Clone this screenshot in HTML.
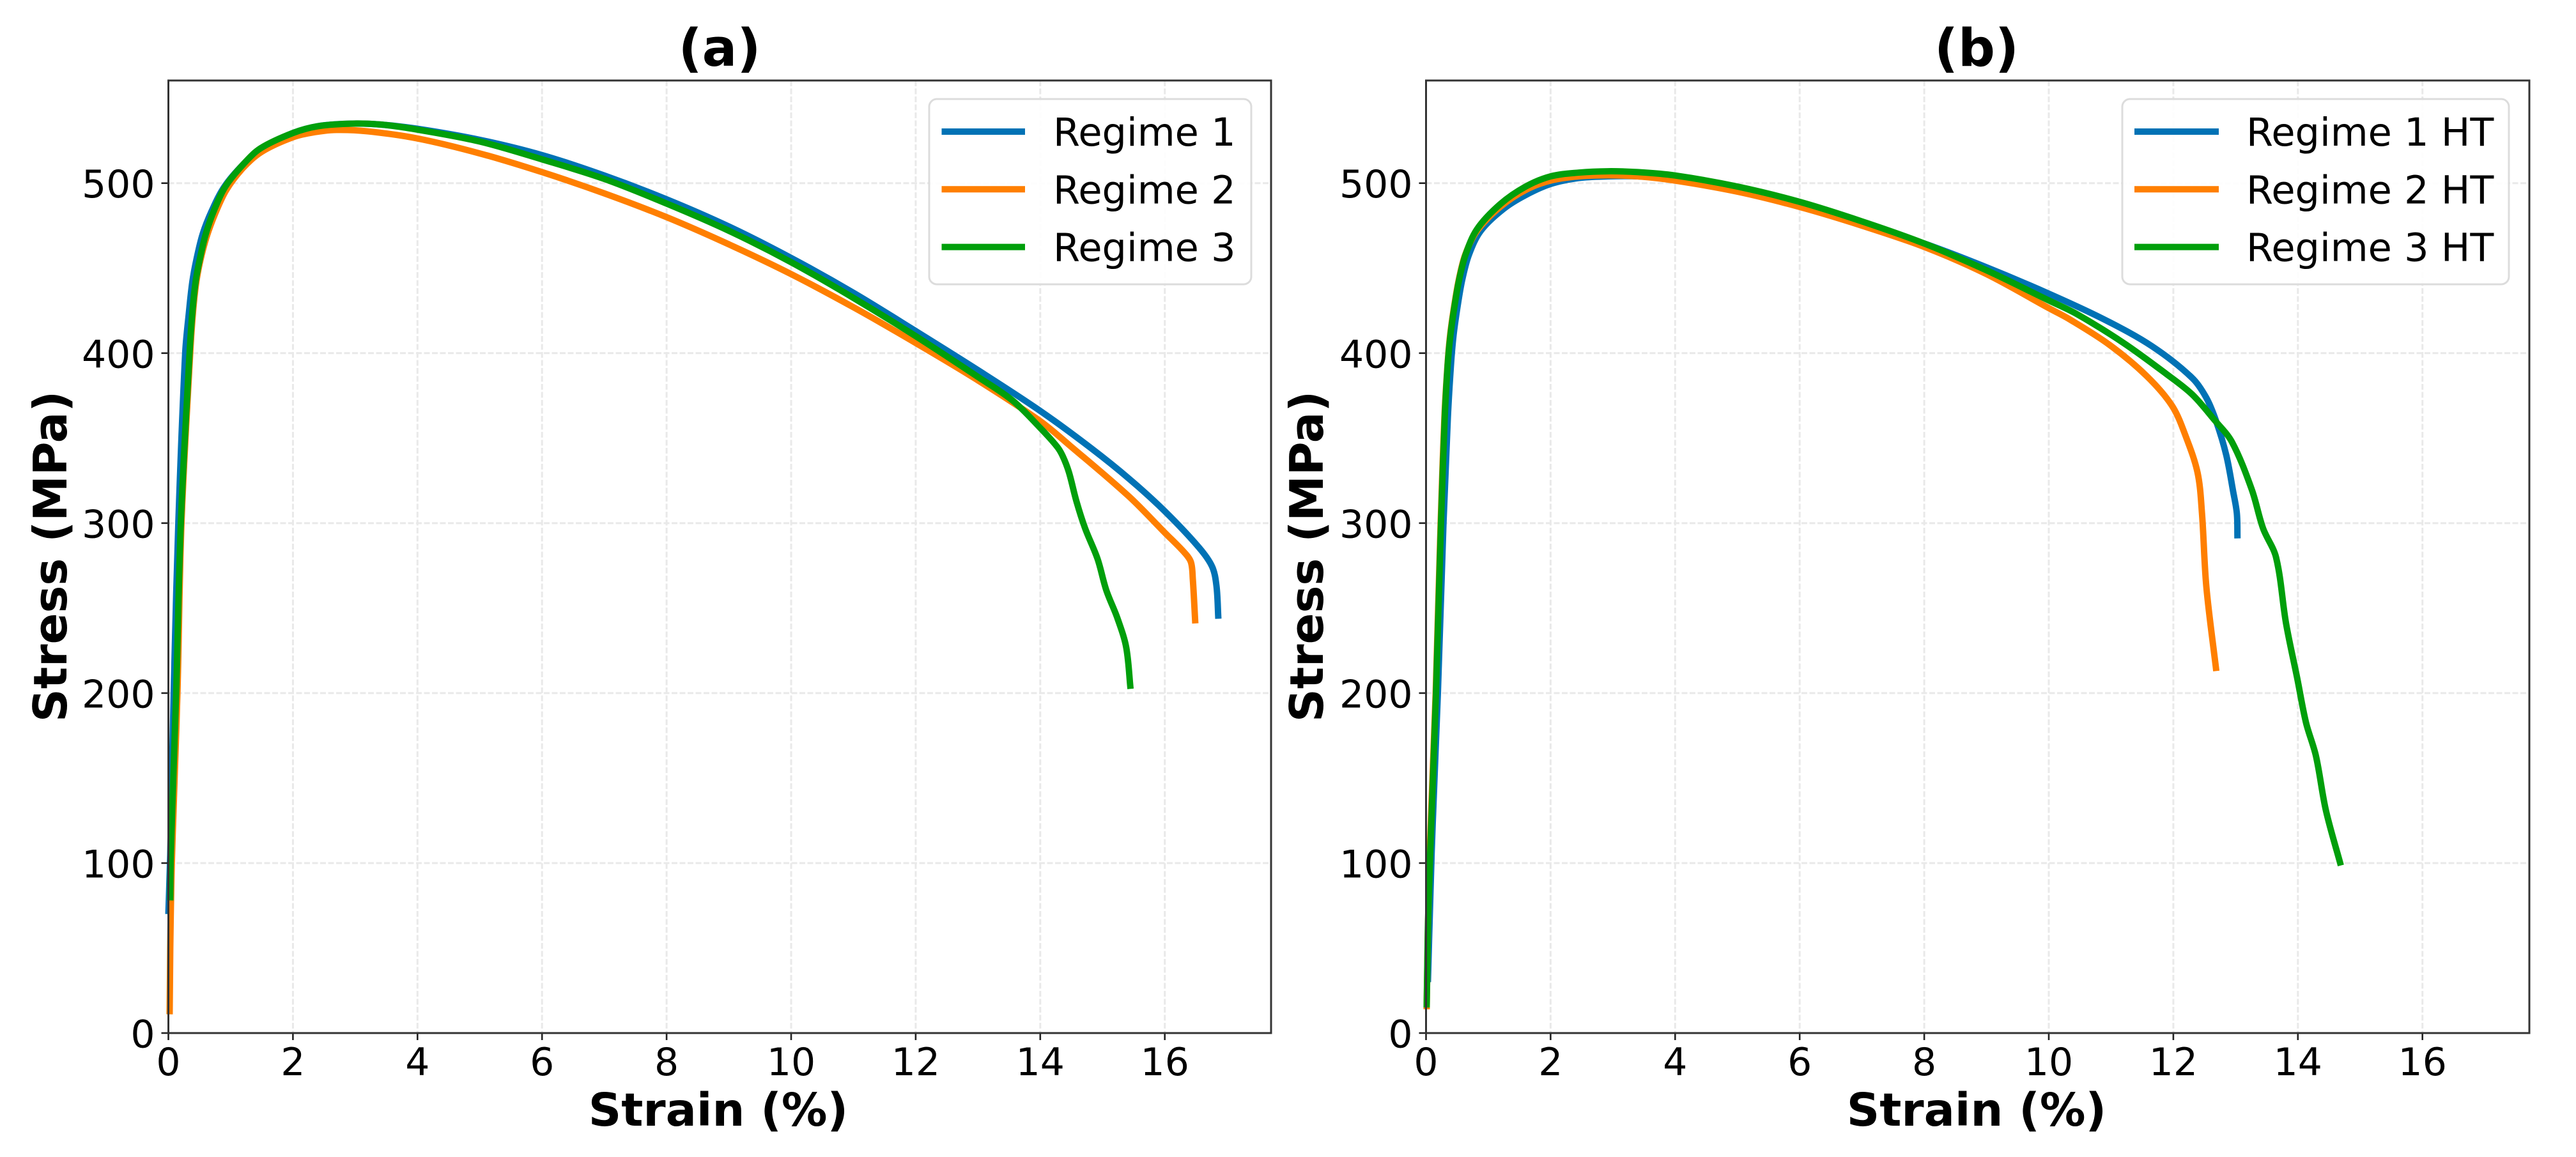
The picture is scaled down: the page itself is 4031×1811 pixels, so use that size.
<!DOCTYPE html>
<html lang="en">
<head>
<meta charset="utf-8">
<title>Stress-strain curves</title>
<style>
html,body{margin:0;padding:0;background:#fff;}
svg{display:block;}
text{font-family:"DejaVu Sans","Liberation Sans",sans-serif;fill:#000;}
.bold{font-weight:bold;}
</style>
</head>
<body>
<svg id="figure" xmlns="http://www.w3.org/2000/svg" width="4031" height="1811" viewBox="0 0 4031 1811">
  <rect x="0" y="0" width="4031" height="1811" fill="#fff"/>
  <g id="panel-a">
    <text class="bold" x="1126" y="103" font-size="81" text-anchor="middle">(a)</text>
    <text class="bold" x="1124" y="1762" font-size="71.5" text-anchor="middle">Strain (%)</text>
    <text class="bold" x="0" y="0" font-size="72" text-anchor="middle" transform="translate(104 871) rotate(-90)">Stress (MPa)</text>
  </g>
  <g id="panel-b">
    <text class="bold" x="3093" y="103" font-size="81" text-anchor="middle">(b)</text>
    <text class="bold" x="3093" y="1762" font-size="71.5" text-anchor="middle">Strain (%)</text>
    <text class="bold" x="0" y="0" font-size="72" text-anchor="middle" transform="translate(2070 871) rotate(-90)">Stress (MPa)</text>
  </g>
</svg>
<script>
// ---- tick labels ----
const xTicks = [0, 2, 4, 6, 8, 10, 12, 14, 16];
const yTicks = [0, 100, 200, 300, 400, 500];

// ---- panel (a) series ----
const strainA1 = [0, 0.03, 0.085, 0.16, 0.27, 0.33, 0.385, 0.45, 0.55, 0.7, 0.9, 1.2, 1.5, 2, 2.4, 2.9, 3.4, 4, 5, 6, 7, 8, 9, 10, 11, 12, 13, 14, 14.82, 15.43, 16, 16.55, 16.76, 16.83, 16.86];
const stressA1 = [70, 105, 200, 300, 400, 424, 442, 455, 470, 484, 498, 511, 520.5, 529.5, 533.5, 535, 534.5, 532, 525.5, 516.5, 504.5, 490.5, 474.5, 456, 435.5, 413, 390, 366, 344, 326, 307, 285.6, 274.4, 263, 243.75];
const strainA2 = [0.02, 0.03, 0.055, 0.145, 0.21, 0.35, 0.395, 0.445, 0.51, 0.61, 0.75, 0.93, 1.2, 1.5, 2, 2.35, 2.7, 3.2, 4, 5, 6, 7, 8, 9, 10, 11, 12, 13, 14, 14.48, 15.43, 16, 16.32, 16.42, 16.45, 16.49];
const stressA2 = [11, 50, 100, 200, 300, 400, 424, 441, 454, 468, 482, 496, 509, 518.5, 527, 530, 531.3, 530.5, 526.3, 517.5, 506.5, 494, 480, 464, 446.5, 427, 406, 384, 360, 345.5, 315.5, 294.4, 282.5, 277, 267, 241];
const strainA3 = [0.03, 0.04, 0.125, 0.2, 0.34, 0.385, 0.437, 0.503, 0.6, 0.733, 0.915, 1.2, 1.48, 2, 2.4, 2.92, 3.4, 4, 5, 6, 7, 8, 9, 10, 11, 12, 13, 13.56, 14, 14.27, 14.36, 14.46, 14.58, 14.72, 14.92, 15.06, 15.24, 15.38, 15.45];
const stressA3 = [78, 106, 200, 300, 400, 424, 442, 455, 470, 484, 498, 511, 520.5, 529.5, 533.5, 535, 534.5, 531.5, 524.5, 514, 502.5, 488, 472, 453.5, 432.5, 410, 386, 372, 356, 345, 339.5, 330, 313, 297, 279, 260.6, 244, 227, 202.5];

// ---- panel (b) series ----
const strainB1 = [0.03, 0.09, 0.19, 0.28, 0.35, 0.4, 0.44, 0.5, 0.58, 0.69, 0.88, 1.25, 1.6, 2, 2.45, 2.92, 3.4, 4, 5, 6, 7, 8, 9, 10, 10.88, 11.66, 12.3, 12.53, 12.69, 12.85, 12.96, 13.02, 13.03];
const stressB1 = [30, 106, 200, 300, 362, 393, 410, 426, 443, 458, 472, 485, 493, 499.5, 503, 504, 504, 502, 496, 487, 476, 464.5, 450.5, 435, 420, 404, 385.5, 373.7, 359.7, 340, 318.7, 305.7, 291];
const strainB2 = [0.01, 0.03, 0.06, 0.155, 0.235, 0.295, 0.345, 0.385, 0.445, 0.525, 0.63, 0.82, 1.19, 1.6, 2, 2.45, 2.92, 3.4, 4, 5, 6, 7, 8, 9, 10, 10.33, 10.97, 11.57, 11.98, 12.2, 12.39, 12.46, 12.53, 12.69];
const stressB2 = [14, 60, 106, 200, 300, 362, 393, 410, 426, 443, 458, 472, 486, 496, 501.5, 504, 504.6, 504, 501.5, 495, 486, 475, 462.5, 446.5, 426.5, 420, 405, 386.6, 369, 351, 329.5, 305.7, 262.6, 213];
const strainB3 = [0.01, 0.03, 0.067, 0.16, 0.24, 0.3, 0.347, 0.39, 0.45, 0.53, 0.635, 0.82, 1.19, 1.6, 2, 2.45, 2.92, 3.4, 4, 5, 6, 7, 8, 9, 10, 10.45, 11.2, 11.89, 12.3, 12.66, 12.94, 13.26, 13.44, 13.65, 13.81, 13.99, 14.13, 14.29, 14.45, 14.69];
const stressB3 = [15, 62, 106, 200, 300, 362, 393, 410, 426, 443, 458, 473, 487.6, 498, 504, 506.2, 507, 506.5, 504.5, 498, 489, 477.5, 464.5, 448.75, 431, 423, 406, 387.7, 375.8, 360.7, 347.8, 319.7, 297, 279.8, 241, 208.6, 182.7, 163, 131, 98.6];

// ---- legend labels and colours ----
const legendLabelsA = ['Regime 1', 'Regime 2', 'Regime 3'];
const legendLabelsB = ['Regime 1 HT', 'Regime 2 HT', 'Regime 3 HT'];
const seriesColors = ['#0072b5', '#ff7f00', '#009f0b'];

const NS = 'http://www.w3.org/2000/svg';

function mk(tag, attrs, parent) {
  const el = document.createElementNS(NS, tag);
  for (const k in attrs) el.setAttribute(k, attrs[k]);
  parent.appendChild(el);
  return el;
}

function smoothPath(pts) {
  let d = 'M' + pts[0][0].toFixed(2) + ' ' + pts[0][1].toFixed(2);
  const tangent = (i) => {
    const a = pts[Math.max(i - 1, 0)], b = pts[Math.min(i + 1, pts.length - 1)];
    const dx = b[0] - a[0], dy = b[1] - a[1], n = Math.hypot(dx, dy) || 1;
    return [dx / n, dy / n];
  };
  for (let i = 0; i < pts.length - 1; i++) {
    const p = pts[i], q = pts[i + 1], len = Math.hypot(q[0] - p[0], q[1] - p[1]) / 3;
    const t0 = tangent(i), t1 = tangent(i + 1);
    d += 'C' + (p[0] + t0[0] * len).toFixed(2) + ' ' + (p[1] + t0[1] * len).toFixed(2) + ' '
       + (q[0] - t1[0] * len).toFixed(2) + ' ' + (q[1] - t1[1] * len).toFixed(2) + ' '
       + q[0].toFixed(2) + ' ' + q[1].toFixed(2);
  }
  return d;
}

function drawPanel(cfg) {
  const root = document.getElementById(cfg.id);
  const xScale = (v) => cfg.left + v * cfg.pxPerX;
  const yScale = (v) => cfg.bottom - v * cfg.pxPerY;
  const right = cfg.right, top = cfg.top, left = cfg.left, bottom = cfg.bottom;

  // grid
  const grid = mk('g', {fill: 'none', stroke: '#e9e9e9', 'stroke-width': 3, 'stroke-dasharray': '9 3.5'}, root);
  
  
  xTicks.forEach((t) => {
    const l = mk('line', {x1: xScale(t), x2: xScale(t), y1: top, y2: bottom}, grid);
    
    
  });
  yTicks.forEach((t) => {
    const l = mk('line', {x1: left, x2: right, y1: yScale(t), y2: yScale(t)}, grid);
    
    
  });

  // series
  cfg.series.forEach((s, i) => {
    const pts = s.x.map((v, k) => [xScale(v), yScale(s.y[k])]);
    const p = mk('path', {d: smoothPath(pts), fill: 'none', stroke: seriesColors[i], 'stroke-width': 10, 'stroke-linejoin': 'round', 'stroke-linecap': 'butt'}, root);
    
    
  });

  // ticks + labels
  xTicks.forEach((t) => {
    const tick = mk('line', {x1: xScale(t), x2: xScale(t), y1: bottom, y2: bottom + 11, stroke: '#222', 'stroke-width': 2.6}, root);
    
    
    const lab = mk('text', {x: xScale(t), y: bottom + 66, 'font-size': 60, 'text-anchor': 'middle'}, root);
    
    
    lab.textContent = String(t);
  });
  yTicks.forEach((t) => {
    const tick = mk('line', {x1: left - 11, x2: left, y1: yScale(t), y2: yScale(t), stroke: '#222', 'stroke-width': 2.6}, root);
    
    
    const lab = mk('text', {x: left - 21, y: yScale(t) + 22.5, 'font-size': 60, 'text-anchor': 'end'}, root);
    
    
    lab.textContent = String(t);
  });

  // spines
  const frame = mk('rect', {x: left, y: top, width: right - left, height: bottom - top, fill: 'none', stroke: '#333', 'stroke-width': 3}, root);
  
  

  // legend
  const lg = mk('g', {}, root);
  
  
  const box = mk('rect', {x: cfg.legX0, y: 155, width: cfg.legX1 - cfg.legX0, height: 290, rx: 12, ry: 12, fill: '#fff', 'fill-opacity': 0.9, stroke: '#dcdcdc', 'stroke-width': 3}, lg);
  
  
  cfg.labels.forEach((name, i) => {
    const yMid = 206 + i * 90.3;
    const h = mk('line', {x1: cfg.handleX0, x2: cfg.handleX1, y1: yMid, y2: yMid, stroke: seriesColors[i], 'stroke-width': 10}, lg);
    
    
    const t = mk('text', {x: cfg.textX, y: yMid + 22, 'font-size': 60.5}, lg);
    
    
    t.textContent = name;
  });
}

drawPanel({
  id: 'panel-a', left: 263.5, right: 1989, top: 126, bottom: 1617, pxPerX: 97.45, pxPerY: 2.6606,
  legX0: 1454, legX1: 1958, handleX0: 1473.5, handleX1: 1604, textX: 1648,
  labels: legendLabelsA,
  series: [{x: strainA1, y: stressA1}, {x: strainA2, y: stressA2}, {x: strainA3, y: stressA3}]
});
drawPanel({
  id: 'panel-b', left: 2231.5, right: 3958, top: 126, bottom: 1617, pxPerX: 97.45, pxPerY: 2.6606,
  legX0: 3321, legX1: 3926, handleX0: 3340, handleX1: 3472, textX: 3515,
  labels: legendLabelsB,
  series: [{x: strainB1, y: stressB1}, {x: strainB2, y: stressB2}, {x: strainB3, y: stressB3}]
});
</script>
</body>
</html>
